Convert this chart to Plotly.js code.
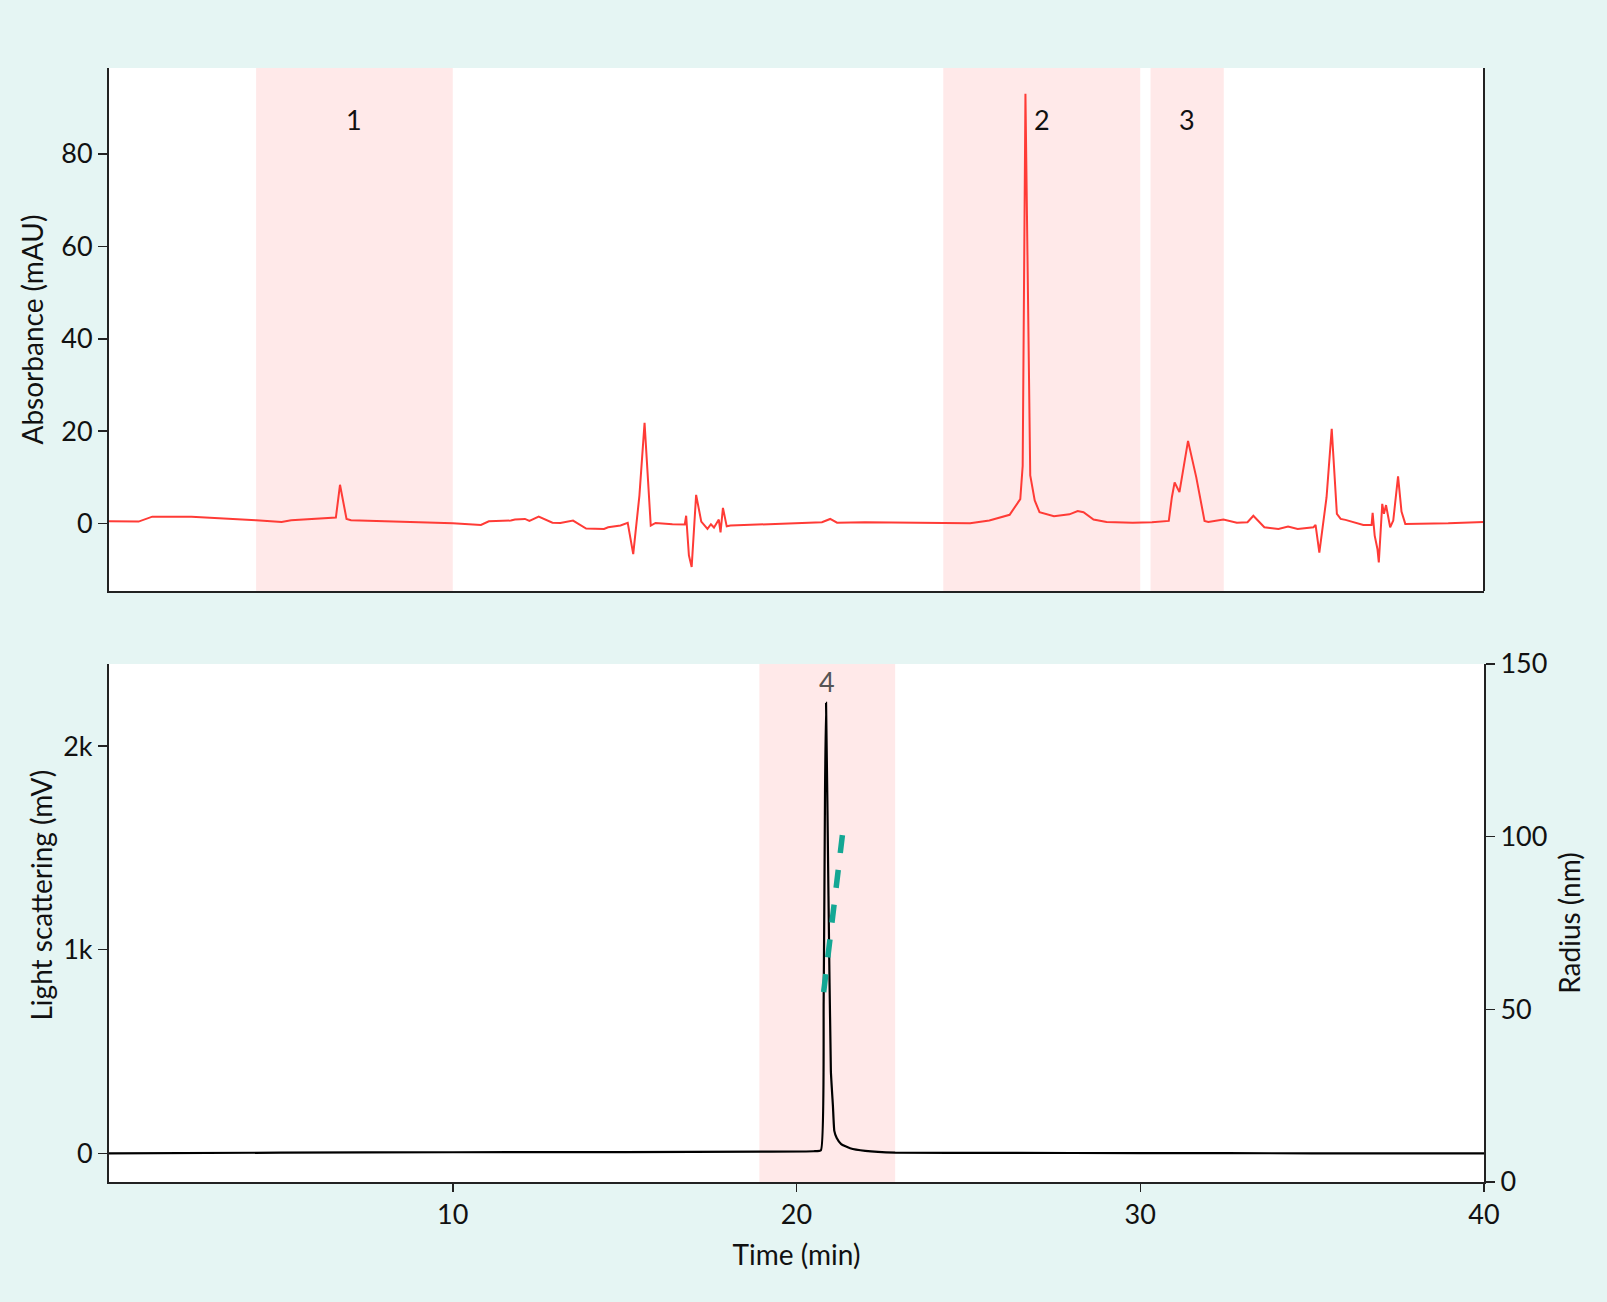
<!DOCTYPE html>
<html>
<head>
<meta charset="utf-8">
<script src="https://cdn.plot.ly/plotly-3.0.1.min.js"></script>
<style>html,body{margin:0;padding:0;background:#e5f5f3;}#chart{width:1607px;height:1302px;}</style>
</head>
<body>
<div id="chart"></div>
<script>
// Absorbance trace (top panel)
const absTime = [0, 0.86, 1.26, 2.4, 4.28, 5.02, 5.3, 6.6, 6.72, 6.91, 7.04, 10.0, 10.82, 11.05, 11.69, 11.81, 12.1, 12.23, 12.5, 12.9, 13.13, 13.5, 13.88, 14.4, 14.52, 14.88, 15.09, 15.25, 15.43, 15.58, 15.76, 15.9, 16.39, 16.75, 16.79, 16.87, 16.95, 17.08, 17.23, 17.41, 17.51, 17.6, 17.74, 17.79, 17.86, 17.97, 18.08, 18.66, 20.74, 20.98, 21.18, 21.99, 24.22, 25.05, 25.61, 26.2, 26.51, 26.58, 26.66, 26.8, 26.93, 27.07, 27.49, 27.94, 28.18, 28.35, 28.64, 29.02, 29.78, 30.34, 30.83, 30.92, 31.0, 31.14, 31.39, 31.63, 31.87, 31.98, 32.42, 32.81, 33.12, 33.29, 33.61, 34.02, 34.3, 34.58, 35.04, 35.1, 35.21, 35.42, 35.57, 35.72, 35.83, 35.97, 36.49, 36.73, 36.76, 36.82, 36.9, 36.94, 37.04, 37.09, 37.15, 37.27, 37.36, 37.5, 37.6, 37.71, 38.96, 40];
const absValue = [0.5, 0.43, 1.5, 1.5, 0.7, 0.36, 0.7, 1.3, 8.4, 1.0, 0.7, 0.07, -0.3, 0.5, 0.65, 0.86, 1.0, 0.58, 1.5, 0.2, 0.14, 0.65, -1.08, -1.15, -0.8, -0.43, 0.14, -6.6, 6.05, 21.8, -0.43, 0.14, -0.14, -0.2, 1.7, -6.9, -9.4, 6.2, 0.43, -1.15, -0.14, -0.86, 0.86, -1.9, 3.4, -0.6, -0.43, -0.3, 0.3, 1.0, 0.2, 0.3, 0.14, 0.07, 0.65, 1.9, 5.3, 12.5, 93, 10.4, 5.0, 2.45, 1.6, 2.0, 2.7, 2.45, 0.86, 0.36, 0.2, 0.3, 0.58, 5.7, 8.9, 6.8, 17.9, 10.0, 0.58, 0.36, 0.86, 0.2, 0.3, 1.7, -0.8, -1.15, -0.65, -1.15, -0.8, -0.3, -6.3, 5.7, 20.5, 2.1, 1.0, 0.8, -0.3, -0.3, 2.3, -2.6, -5.5, -8.4, 4.25, 2.1, 4.0, -0.8, 0.65, 10.2, 2.6, -0.07, 0.07, 0.36];

// Light scattering trace (bottom panel, left axis)
const lsTime = [0, 5, 10, 15, 19, 20.5, 20.71, 20.79, 20.83, 20.86, 20.93, 21.0, 21.06, 21.1, 21.17, 21.3, 21.56, 22.0, 22.87, 26, 30, 35, 40];
const lsValue = [0, 3, 5, 6, 8, 10, 15, 747, 1785, 2212, 1265, 403, 231, 110, 75, 45, 25, 12, 3, 2, 1, 0, 0];

// Radius trace (bottom panel, right axis)
const radTime = [20.79, 20.93, 21.07, 21.21, 21.36];
const radValue = [55, 66.5, 78, 90, 102.5];

// Shaded fractions
const topRegions = [[4.28, 10.0], [24.27, 30.0], [30.3, 32.43]];
const topLabels = ['1', '2', '3'];
const bottomRegions = [[18.92, 22.87]];
const bottomLabels = ['4'];

const fam = 'Lato, "Noto Sans", sans-serif';
const tickFont = {family: fam, size: 27, color: '#111'};
const titleFont = {family: fam, size: 28, color: '#111'};

const traces = [
  {x: absTime, y: absValue, xaxis: 'x2', yaxis: 'y', type: 'scatter', mode: 'lines',
   line: {color: '#ff3b36', width: 2}, hoverinfo: 'skip'},
  {x: lsTime, y: lsValue, xaxis: 'x', yaxis: 'y2', type: 'scatter', mode: 'lines',
   line: {color: '#000', width: 2.2, shape: 'spline', smoothing: 0.4}, hoverinfo: 'skip'},
  {x: radTime, y: radValue, xaxis: 'x', yaxis: 'y3', type: 'scatter', mode: 'lines',
   line: {color: '#14a794', width: 5.5, dash: '18px,17px'}, hoverinfo: 'skip'}
];

const shapes = [];
const annotations = [];
topRegions.forEach((r, i) => {
  shapes.push({type: 'rect', xref: 'x2', yref: 'y domain', x0: r[0], x1: r[1], y0: 0, y1: 1,
    fillcolor: '#ffe9e9', line: {width: 0}, layer: 'below'});
  annotations.push({xref: 'x2', yref: 'y', x: (r[0] + r[1]) / 2, y: 87.4, text: topLabels[i],
    showarrow: false, font: {family: fam, size: 27, color: '#111'}});
});
bottomRegions.forEach((r, i) => {
  shapes.push({type: 'rect', xref: 'x', yref: 'y2 domain', x0: r[0], x1: r[1], y0: 0, y1: 1,
    fillcolor: '#ffe9e9', line: {width: 0}, layer: 'below'});
  annotations.push({xref: 'x', yref: 'y2', x: (r[0] + r[1]) / 2, y: 2317, text: bottomLabels[i],
    showarrow: false, font: {family: fam, size: 27, color: '#555'}});
});
// left title of the bottom panel (sits a little below the domain centre in the original)
annotations.push({xref: 'paper', yref: 'paper', x: -0.0495, y: 0.258, xanchor: 'center', yanchor: 'middle',
  text: 'Light scattering (mV)', textangle: -90, showarrow: false, font: titleFont});

const axisCommon = {showgrid: false, zeroline: false, showline: true, linecolor: '#222', linewidth: 2,
  ticks: 'outside', ticklen: 9, tickwidth: 1.5, tickcolor: '#222', tickfont: tickFont};

const layout = {
  width: 1607, height: 1302,
  paper_bgcolor: '#e5f5f3', plot_bgcolor: '#ffffff',
  margin: {l: 109, r: 123, t: 68, b: 120},
  showlegend: false,
  font: tickFont,
  xaxis: Object.assign({}, axisCommon, {range: [0, 40], anchor: 'y2', tickvals: [10, 20, 30, 40], ticklen: 8,
    title: {text: 'Time (min)', font: titleFont, standoff: 16}}),
  xaxis2: Object.assign({}, axisCommon, {range: [0, 40], anchor: 'y', showticklabels: false, ticks: '',
    mirror: false}),
  yaxis: Object.assign({}, axisCommon, {domain: [0.5305, 1], range: [-14.6, 98.6], anchor: 'x2',
    tickvals: [0, 20, 40, 60, 80], title: {text: 'Absorbance (mAU)', font: titleFont, standoff: 9}}),
  yaxis2: Object.assign({}, axisCommon, {domain: [0, 0.465], range: [-141, 2403], anchor: 'x',
    tickvals: [0, 1000, 2000], ticktext: ['0', '1k', '2k']}),
  yaxis3: Object.assign({}, axisCommon, {overlaying: 'y2', side: 'right', range: [0, 150], anchor: 'x',
    tickvals: [0, 50, 100, 150], title: {text: 'Radius (nm)', font: titleFont, standoff: 14}}),
  shapes: shapes,
  annotations: annotations
};

// right border line of the top panel
shapes.push({type: 'line', xref: 'paper', yref: 'y domain', x0: 1, x1: 1, y0: 0, y1: 1,
  line: {color: '#222', width: 2}});

Plotly.newPlot('chart', traces, layout, {staticPlot: true, displayModeBar: false});
</script>
</body>
</html>
